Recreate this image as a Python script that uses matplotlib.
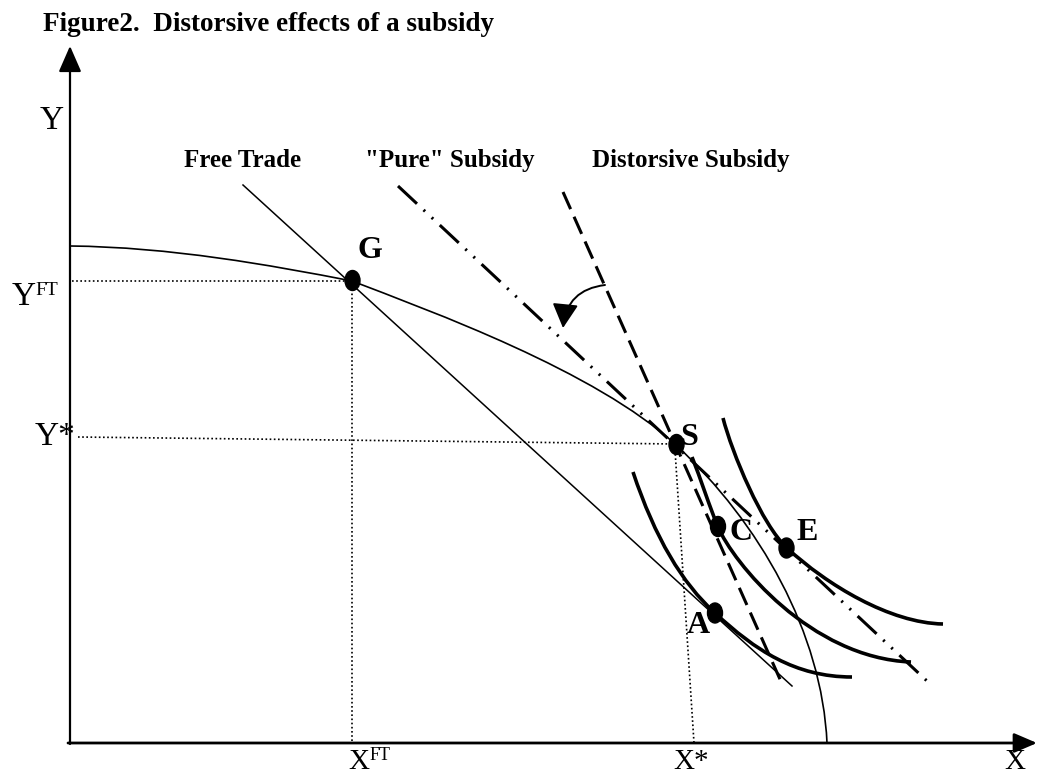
import matplotlib.pyplot as plt
from matplotlib.path import Path
from matplotlib.patches import PathPatch, Ellipse, FancyArrowPatch

plt.rcParams['font.family'] = ['Liberation Serif', 'DejaVu Serif']
plt.rcParams['lines.scale_dashes'] = False

# diagram units (about 1 px each), origin where the two axes cross
# curves are cubic bezier control points
ppf = [(0, 497), (100, 496), (200, 478), (282, 462),
       (360, 432), (526, 372), (606, 298),
       (690, 220), (752, 110), (757, 0)]
ic_low = [(563, 271), (585, 205), (612, 160), (645, 130),
          (685, 93), (725, 66), (782, 66)]
ic_mid = [(622, 286), (630, 266), (640, 235), (648, 216),
          (663, 181), (740, 85), (841, 81)]
ic_high = [(653, 325), (662, 290), (692, 218), (717, 195),
           (757, 158), (820, 120), (873, 119)]

free_trade_x = [173, 722]
free_trade_y = [558, 57]
pure_x = [328, 857]
pure_y = [557, 62]
distort_x = [493, 713]
distort_y = [551, 57]

pt_names = ['G', 'S', 'C', 'E', 'A']
pt_x = [282.5, 606.5, 648, 716.5, 645]
pt_y = [462.5, 298.5, 216.5, 195, 130]

x_ft, y_ft = 282, 462      # free trade production
x_star, y_star = 606, 298  # subsidised production

line_names = ['Free Trade', '"Pure" Subsidy', 'Distorsive Subsidy']


def bezier(ax, pts, lw):
    codes = [Path.MOVETO] + [Path.CURVE4] * (len(pts) - 1)
    ax.add_patch(PathPatch(Path(pts, codes), fill=False, lw=lw,
                           edgecolor='black', capstyle='butt'))


fig = plt.figure(figsize=(10.37, 7.76), dpi=100)
ax = fig.add_axes([0, 0, 1, 1])
ax.set_xlim(-70, 967)
ax.set_ylim(-33, 743)
ax.axis('off')

# axes with arrows
ax.annotate('', xy=(0, 697), xytext=(0, -1), annotation_clip=False,
            arrowprops=dict(arrowstyle='-|>,head_length=0.8,head_width=0.35',
                            lw=1.6, color='black', mutation_scale=20,
                            shrinkA=0, shrinkB=0))
ax.annotate('', xy=(967, 0), xytext=(-2, 0), annotation_clip=False,
            arrowprops=dict(arrowstyle='-|>,head_length=0.7,head_width=0.3',
                            lw=2.0, color='black', mutation_scale=20,
                            shrinkA=0, shrinkB=0))

# dotted guides
dots = (0, (1.2, 1.8))
ax.plot([2, x_ft], [y_ft, y_ft], color='black', lw=1.2, ls=dots)
ax.plot([x_ft, x_ft], [y_ft, 0], color='black', lw=1.2, ls=dots)
ax.plot([8, x_star], [306, y_star + 1], color='black', lw=1.2, ls=dots)
ax.plot([x_star - 1, 624], [y_star - 5, 0], color='black', lw=1.2, ls=dots)

# frontier and indifference curves
bezier(ax, ppf, 1.2)
bezier(ax, ic_low, 2.6)
bezier(ax, ic_mid, 2.6)
bezier(ax, ic_high, 2.6)

# price lines
ax.plot(free_trade_x, free_trade_y, color='black', lw=1.1)
ax.plot(pure_x, pure_y, color='black', lw=2.2,
        ls=(0, (18.7, 6.5, 1.5, 6.5, 1.5, 6.5)))
ax.plot(distort_x, distort_y, color='black', lw=2.2, ls=(0, (13.5, 6)))

# rotation arrow between the two subsidy lines
arr = FancyArrowPatch((535, 458), (493, 415),
                      connectionstyle='arc3,rad=0.4',
                      arrowstyle='-|>,head_length=0.75,head_width=0.4',
                      mutation_scale=20, lw=1.4, color='black',
                      shrinkA=0, shrinkB=0)
ax.add_patch(arr)

# points
for x, y in zip(pt_x, pt_y):
    ax.add_patch(Ellipse((x, y), 15, 20, color='black', zorder=5))

lab_x = [300, 619, 671, 737.5, 628]
lab_y = [485, 298, 203, 203, 110]
for name, x, y in zip(pt_names, lab_x, lab_y):
    ax.text(x, y, name, ha='center', va='baseline', fontsize=23,
            fontweight='bold')

# line labels
for name, x in zip(line_names, [114, 295, 522]):
    ax.text(x, 576, name, ha='left', va='baseline', fontsize=18,
            fontweight='bold')

# axis labels
ax.text(-18, 614, 'Y', ha='center', va='baseline', fontsize=24)
ax.text(-58, 438, 'Y', ha='left', va='baseline', fontsize=24)
ax.text(-35, 448, 'FT', ha='left', va='baseline', fontsize=14)
ax.text(-35, 298, 'Y*', ha='left', va='baseline', fontsize=24)
ax.text(278, -26, 'X', ha='left', va='baseline', fontsize=21)
ax.text(300, -17, 'FT', ha='left', va='baseline', fontsize=13)
ax.text(603, -26, 'X*', ha='left', va='baseline', fontsize=21)
ax.text(934, -26, 'X', ha='left', va='baseline', fontsize=21)

ax.text(-27, 712, 'Figure2.  Distorsive effects of a subsidy', ha='left',
        va='baseline', fontsize=19.5, fontweight='bold')

fig.savefig('out.png', dpi=100)
